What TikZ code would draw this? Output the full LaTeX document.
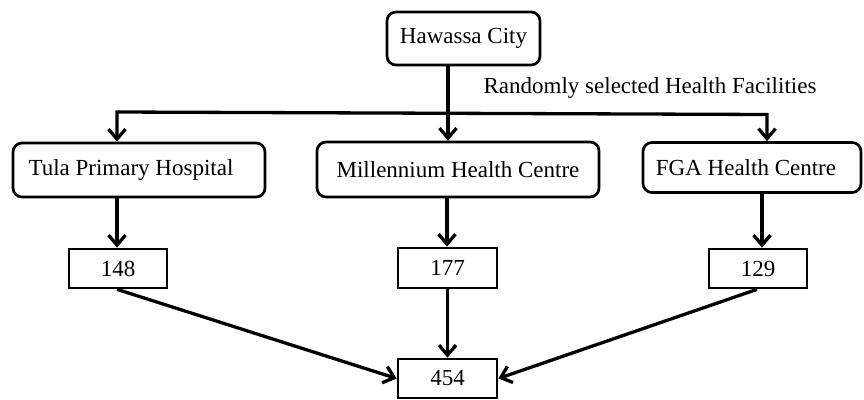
\documentclass[tikz,border=0pt]{standalone}
\usepackage{fontspec}
\setmainfont{Liberation Serif}
\usetikzlibrary{arrows.meta}
\begin{document}
\begin{tikzpicture}[x=1pt,y=-1pt,
  every node/.style={font=\fontsize{23}{27}\selectfont, inner sep=0pt},
  rbox/.style={draw, line width=2.7pt, rounded corners=9pt},
  sbox/.style={draw, line width=2.7pt},
  arr/.style={line width=3.3pt, -{Straight Barb[length=10pt,width=17pt]}},
  arr2/.style={line width=3.3pt, {Straight Barb[length=10pt,width=17pt]}-{Straight Barb[length=10pt,width=17pt]}}]
\useasboundingbox (0,0) rectangle (864,399);
\node[rbox, minimum width=153pt, minimum height=53pt] (haw) at (463.5,38.5) {Hawassa City};
\node[rbox, minimum width=252pt, minimum height=54pt] (tula) at (139,170) {Tula Primary Hospital\hspace*{16pt}};
\node[rbox, minimum width=282pt, minimum height=55pt] (mil) at (458,169.5) {Millennium Health Centre};
\node[rbox, minimum width=218pt, minimum height=50pt] (fga) at (752,167.5) {FGA Health Centre\hspace*{12pt}};
\node[sbox, minimum width=98pt, minimum height=39pt] (n148) at (118,268.5) {148};
\node[sbox, minimum width=99pt, minimum height=40pt] (n177) at (447.5,268) {177};
\node[sbox, minimum width=98pt, minimum height=39pt] (n129) at (758,268.5) {129};
\node[sbox, minimum width=99pt, minimum height=39pt] (n454) at (447.5,378.5) {454};
\node (lab) at (650,88) {Randomly selected Health Facilities};
\coordinate (jl) at (117,112);
\coordinate (jr) at (767,114.5);
\draw[arr] (haw.south -| 448,0) -- (448,0 |- mil.north);
\draw[arr2] (jl |- tula.north) -- (jl) -- (jr) -- (jr |- fga.north);
\draw[arr] (117,0 |- tula.south) -- (117,0 |- n148.north);
\draw[arr] (447,0 |- mil.south) -- (447,0 |- n177.north);
\draw[arr] (762,0 |- fga.south) -- (762,0 |- n129.north);
\draw[arr] (n177.south) -- (n454.north);
\draw[arr] (117,0 |- n148.south) -- (n454.west);
\draw[arr] (757,0 |- n129.south) -- (n454.east);
\end{tikzpicture}
\end{document}
